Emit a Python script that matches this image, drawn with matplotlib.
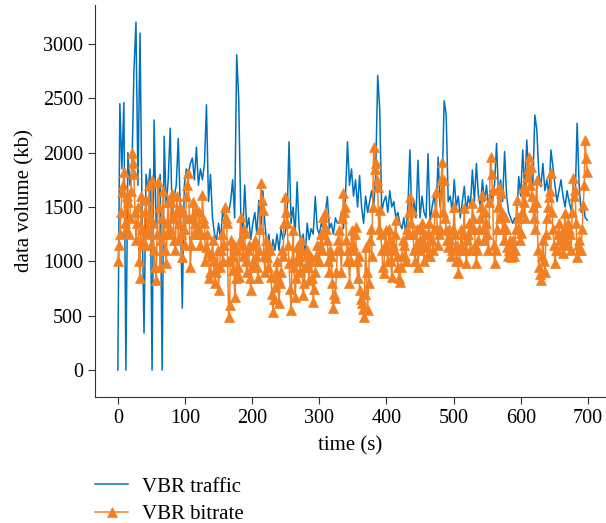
import numpy as np
import matplotlib
matplotlib.use("Agg")
import matplotlib.pyplot as plt

plt.rcParams['font.family'] = ['Liberation Serif', 'DejaVu Serif']

# samples every 3 s, 0..699 s
time_s = np.arange(0, 700, 3)
# extra bitrate samples half-way between them
time_mid_s = np.arange(1.5, 699, 3)

vbr_traffic = [
    0, 2450, 1850, 2460, 0, 2000, 1700, 1850, 2750, 3200,
    1700, 3100, 1500, 340, 1800, 1650, 1850, 0, 2300, 1350,
    1550, 1800, 0, 2150, 1500, 1750, 2225, 1400, 1600, 1700,
    2130, 1500, 570, 1700, 1850, 1800, 1900, 1950, 1750, 2050,
    1700, 1850, 1750, 1900, 2440, 1550, 1800, 1400, 1250, 1200,
    1350, 1200, 1450, 1400, 1500, 1450, 1550, 1750, 1400, 2900,
    2500, 1450, 1250, 1700, 1300, 1400, 1200, 1350, 1450, 1250,
    1560, 1300, 1650, 1350, 1150, 1250, 1050, 1200, 1100, 1250,
    1100, 1300, 1200, 1250, 1400, 2100, 1350, 1500, 1250, 1730,
    1300, 1150, 1250, 1050, 1350, 1200, 1300, 1250, 1595, 1300,
    1250, 1350, 1300, 1450, 1595, 1300, 1350, 1250, 1400, 1350,
    1350, 1450, 1300, 1600, 2100, 1700, 1850, 1600, 1750, 1500,
    1790, 1500, 1350, 1600, 1450, 1550, 1650, 1500, 1800, 2710,
    2400, 1450, 1550, 1600, 1450, 1650, 1500, 1550, 1400, 1450,
    1350, 1300, 1400, 1250, 1500, 2025, 1350, 1550, 1400, 1930,
    1400, 1600, 1450, 1400, 1990, 1350, 1500, 1600, 1450, 1960,
    1500, 1700, 2477, 2346, 1550, 1600, 1450, 1750, 1500, 1600,
    1400, 1550, 1690, 1450, 1600, 1500, 1840, 1550, 1900, 1600,
    1500, 1750, 1550, 1700, 1500, 1650, 1550, 1700, 2085, 1600,
    1750, 1550, 2010, 1600, 1450, 1400, 1350, 1400, 1380, 1780,
    1600, 2024, 1650, 2116, 1750, 1800, 1700, 2346, 2208, 1800,
    1687, 1900, 1650, 1750, 1600, 2024, 1870, 1700, 1550, 1650,
    1750, 1600, 1500, 1650, 1550, 1470, 1600, 1550, 2270, 1700,
    1450, 1550, 1400, 1380,
]

vbr_bitrate = [
    1000, 1250, 1640, 1824, 1300, 1550, 1400, 1993, 1800, 1200,
    1500, 843, 1300, 1150, 1560, 1250, 1400, 1748, 1100, 828,
    1733, 950, 1400, 1250, 981, 1550, 1300, 1620, 1200, 1450,
    1196, 1500, 1043, 1300, 1600, 1809, 950, 1400, 1250, 1472,
    1300, 1150, 1610, 1350, 1135, 1074, 900, 1200, 800, 950,
    736, 1100, 1000, 1503, 1350, 490, 1200, 920, 675, 1100,
    858, 1411, 1050, 1257, 900, 1150, 736, 1000, 1200, 950,
    1100, 1717, 1472, 900, 1043, 1150, 858, 536, 767, 1000,
    613, 900, 1050, 1595, 1349, 981, 552, 1288, 675, 1135,
    1000, 1200, 690, 950, 1100, 828, 1043, 628, 900, 1150,
    1000, 1250, 1411, 1441, 1196, 900, 1050, 567, 660, 1100,
    1288, 900, 1625, 1500, 1000, 797, 1288, 1100, 1319, 850,
    736, 613, 490, 1135, 550, 1196, 1050, 2054, 1900, 1686,
    1472, 1100, 889, 1288, 1000, 1200, 858, 1100, 1380, 950,
    812, 1050, 1150, 1000, 1250, 1595, 1472, 1100, 1150, 950,
    1200, 1350, 1000, 1135, 1250, 1050, 1200, 1300, 1641, 1150,
    1300, 1916, 1748, 1288, 1135, 1200, 1100, 1503, 1000, 889,
    1100, 1150, 1487, 981, 1250, 1100, 1533, 1300, 981, 1200,
    1400, 1610, 1200, 1350, 1100, 1962, 1656, 981, 1300, 1687,
    1625, 1300, 1410, 1135, 1100, 1043, 1200, 1100, 1560, 1300,
    1257, 1671, 1400, 1779, 1962, 1870, 1500, 1300, 1748, 950,
    828, 1200, 900, 1400, 1594, 1810, 1300, 981, 1100, 1350,
    1250, 1073, 1441, 1150, 1300, 1100, 1763, 1656, 1043, 1200,
    1100, 1518, 2116, 1825,
]

vbr_bitrate_mid = [
    1150, 1450, 1700, 1350, 1600, 1250, 1650, 1900, 1450, 1350,
    1000, 1600, 1200, 1450, 1300, 1700, 1150, 1350, 950, 1250,
    1500, 1200, 1650, 1100, 1350, 1250, 1550, 1400, 1100, 1600,
    1350, 1250, 1450, 1150, 1700, 1400, 1150, 1550, 1350, 1250,
    1450, 1250, 1400, 1000, 1250, 850, 1050, 1000, 900, 1100,
    950, 1250, 1150, 1400, 1000, 600, 1050, 1150, 850, 950,
    1200, 1150, 1300, 1000, 1100, 850, 950, 1150, 1050, 850,
    1300, 1564, 1050, 1200, 950, 1100, 700, 650, 900, 850,
    800, 1100, 1350, 1450, 1150, 750, 1000, 950, 850, 1050,
    900, 1100, 800, 1050, 950, 1000, 850, 750, 1050, 1000,
    1150, 1100, 1250, 1300, 1000, 1100, 800, 700, 900, 1200,
    1100, 1400, 1450, 1200, 1100, 1000, 1150, 1250, 1000, 1050,
    650, 560, 700, 900, 800, 1300, 1500, 1850, 1750, 1300,
    1250, 950, 1150, 1100, 1300, 1000, 1150, 1250, 1050, 850,
    950, 1200, 1050, 1300, 1450, 1350, 1250, 1000, 1300, 1100,
    1300, 1150, 1250, 1050, 1350, 1200, 1100, 1450, 1300, 1250,
    1750, 1450, 1400, 1200, 1300, 1050, 1300, 1250, 1150, 1000,
    1300, 1250, 1100, 1200, 1350, 1300, 1400, 1150, 1100, 1300,
    1500, 1300, 1450, 1250, 1550, 1800, 1150, 1100, 1500, 1400,
    1450, 1200, 1300, 1050, 1200, 1150, 1050, 1300, 1400, 1200,
    1450, 1550, 1650, 1850, 1700, 1600, 1400, 1550, 1100, 880,
    1050, 1000, 1250, 1500, 1650, 1450, 1150, 1100, 1250, 1200,
    1150, 1300, 1200, 1350, 1250, 1450, 1600, 1350, 1150, 1100,
    1300, 1700, 1950,
]

# merge the two bitrate sample sets in time order
t_rate = np.concatenate([time_s, time_mid_s])
v_rate = np.concatenate([vbr_bitrate, vbr_bitrate_mid])
order = np.argsort(t_rate)
t_rate, v_rate = t_rate[order], v_rate[order]

fig = plt.figure(figsize=(6.06, 5.23), dpi=100)
ax = fig.add_axes([95/606, 1 - 397/523, 1 - 95/606, (397 - 5)/523])

ax.plot(time_s, vbr_traffic, color='#0072bd', lw=1.1, label='VBR traffic')
ax.plot(t_rate, v_rate, color='#f28023', lw=1.1, marker='^', ms=7.5,
        markeredgewidth=0.5, label='VBR bitrate')

ax.set_xlim(-34, 727)
ax.set_ylim(-248, 3358)
ax.set_xticks(range(0, 701, 100))
ax.set_yticks(range(0, 3001, 500))
for s in ['top', 'right']:
    ax.spines[s].set_visible(False)
for s in ['left', 'bottom']:
    ax.spines[s].set_color('#333333')
ax.tick_params(direction='out', length=5, color='#333333', labelsize=14.5)
ax.set_xlabel('time (s)', fontsize=15, labelpad=6)
ax.set_ylabel('data volume (kb)', fontsize=15, labelpad=6)

fig.legend(loc='upper left', bbox_to_anchor=(95/606, 1 - 477/523), frameon=False,
           fontsize=15, borderpad=0, borderaxespad=0, handlelength=1.6,
           handletextpad=0.65, labelspacing=0.37)

fig.savefig('out.png', dpi=100)
